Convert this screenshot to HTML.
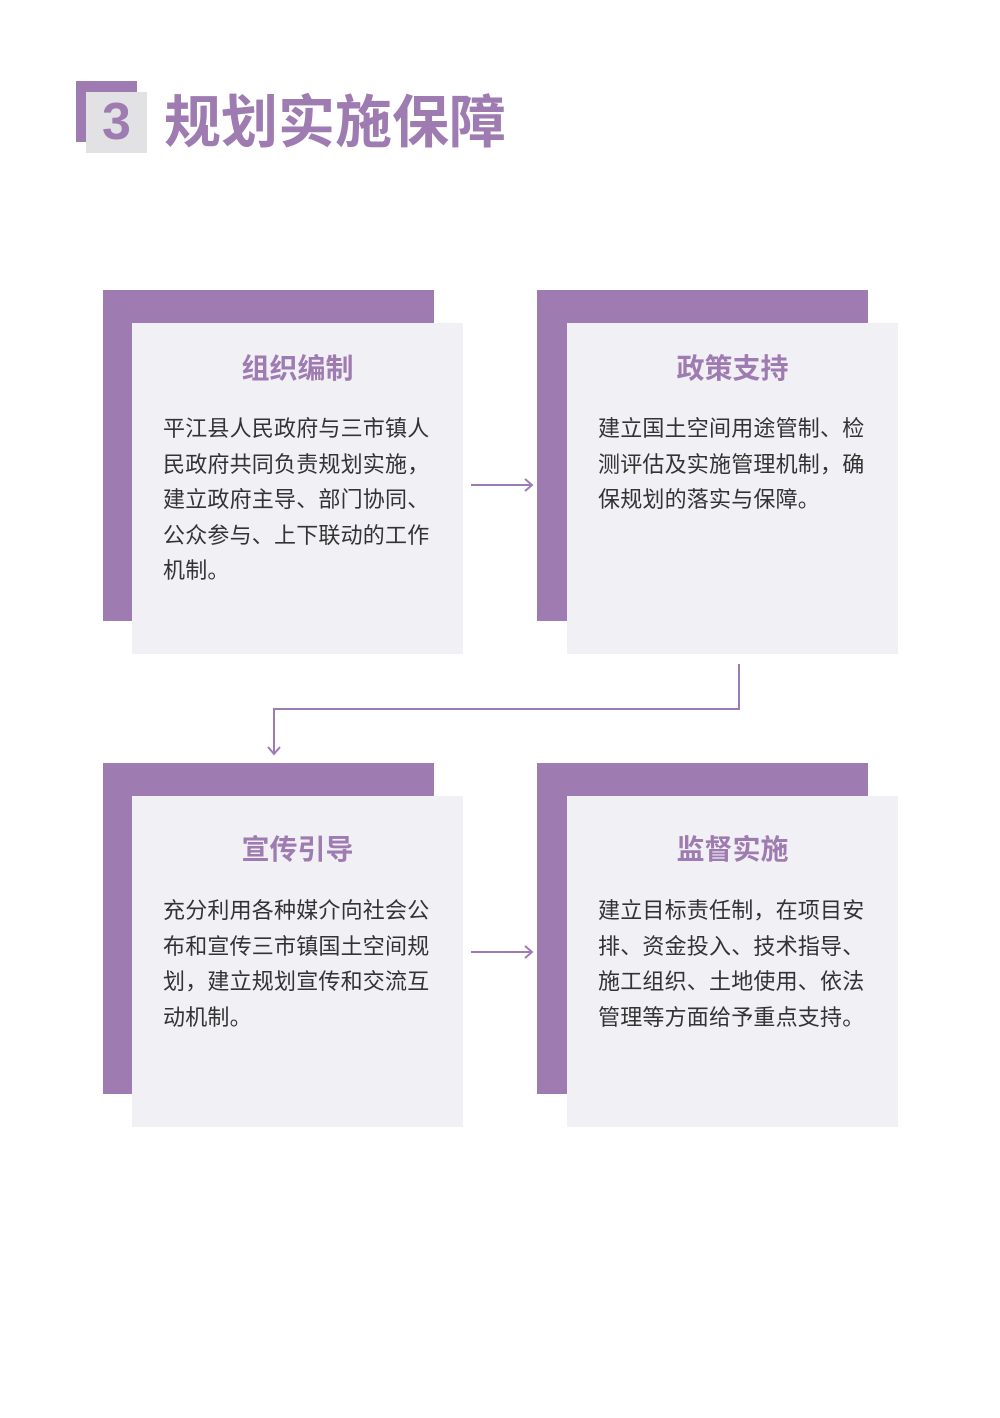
<!DOCTYPE html>
<html><head><meta charset="utf-8"><style>
body{margin:0;width:1000px;height:1418px;background:#fff;position:relative;overflow:hidden;font-family:"Liberation Sans","Noto Sans CJK SC",sans-serif}
.a{position:absolute}
.p{background:#9e7bb0;width:331px;height:331px}
.l{background:#f1f0f5;width:331px;height:331px}
.t{position:absolute;left:0;width:331px;top:26px;text-align:center;color:#9e7bb0;font-size:28px;font-weight:bold;line-height:40px}
.b{position:absolute;left:31px;top:88px;width:278px;font-size:22px;line-height:35.5px;color:#333;letter-spacing:0.2px}
.lo .t{top:34px}
.lo .b{top:97px}
</style></head><body>
<div class="a" style="left:76px;top:81px;width:61px;height:61px;background:#9e7bb0"></div>
<div class="a" style="left:86px;top:92px;width:61px;height:61px;background:#e2e2e4;color:#9e7bb0;font-size:52px;font-weight:bold;text-align:center;line-height:61px">3</div>
<div class="a" style="left:164px;top:88px;font-size:57px;font-weight:bold;color:#9e7bb0;line-height:70px">规划实施保障</div>

<div class="a p" style="left:103px;top:290px"></div>
<div class="a l" style="left:132px;top:323px"><div class="t">组织编制</div><div class="b">平江县人民政府与三市镇人民政府共同负责规划实施，建立政府主导、部门协同、公众参与、上下联动的工作机制。</div></div>
<div class="a p" style="left:537px;top:290px"></div>
<div class="a l" style="left:567px;top:323px"><div class="t">政策支持</div><div class="b">建立国土空间用途管制、检测评估及实施管理机制，确保规划的落实与保障。</div></div>
<div class="a p" style="left:103px;top:763px"></div>
<div class="a l lo" style="left:132px;top:796px"><div class="t">宣传引导</div><div class="b">充分利用各种媒介向社会公布和宣传三市镇国土空间规划，建立规划宣传和交流互动机制。</div></div>
<div class="a p" style="left:537px;top:763px"></div>
<div class="a l lo" style="left:567px;top:796px"><div class="t">监督实施</div><div class="b">建立目标责任制，在项目安排、资金投入、技术指导、施工组织、土地使用、依法管理等方面给予重点支持。</div></div>

<svg class="a" style="left:0;top:0" width="1000" height="1418">
<g stroke="#9e7bb0" stroke-width="2" fill="none">
<path d="M471 485H532M525 479L532 485L525 491"/>
<path d="M471 952H532M525 946L532 952L525 958"/>
<path d="M739 664V709H274V754M268 747L274 754L280 747"/>
</g></svg>
</body></html>
